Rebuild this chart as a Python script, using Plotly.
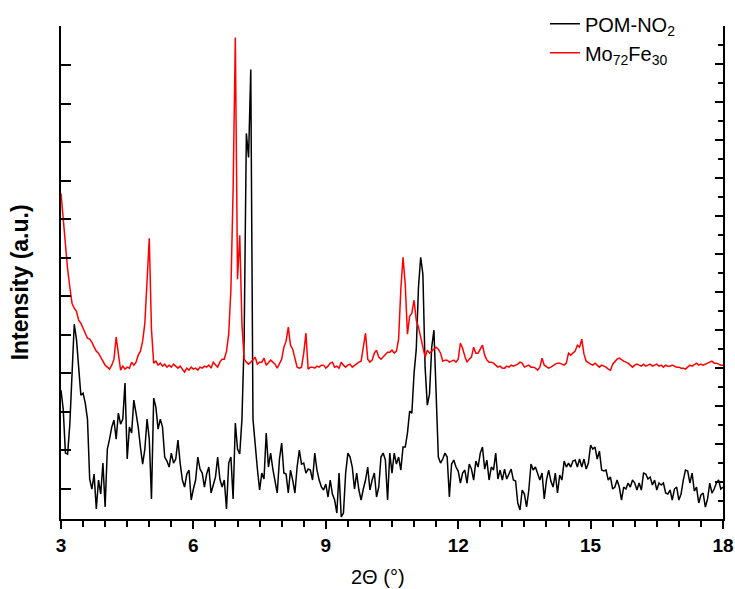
import plotly.graph_objects as go

# ---- data (2-theta grid start/step, intensities in arbitrary units) ----
X_START = 3.0
X_STEP = 0.05

pom_no2 = [
    129, 110, 66, 65, 95, 152, 195, 180, 150, 124, 126, 116, 100, 40, 30, 45, 10, 39, 25, 56,      # 3.00-3.95
    12, 70, 80, 92, 99, 80, 106, 95, 100, 136, 60, 92, 86, 119, 106, 92, 72, 55, 70, 100,          # 4.00-4.95
    80, 20, 121, 112, 90, 100, 92, 62, 58, 52, 66, 56, 60, 79, 56, 39, 32, 45, 49, 19,             # 5.00-5.95
    30, 39, 62, 50, 46, 32, 45, 52, 26, 35, 42, 62, 40, 32, 39, 10, 56, 62, 20, 96,                # 6.00-6.95
    70, 65, 100, 180, 386, 362, 450, 100, 72, 50, 29, 46, 40, 86, 52, 66, 50, 39, 26, 60,          # 7.00-7.95
    76, 46, 45, 26, 49, 39, 26, 52, 69, 55, 56, 46, 50, 49, 39, 66, 49, 39, 32, 29,                # 8.00-8.95
    35, 22, 39, 25, 19, 6, 46, 2, 6, 46, 66, 62, 52, 30, 46, 29, 19, 30, 39, 52,                   # 9.00-9.95
    29, 39, 46, 22, 32, 62, 66, 59, 19, 66, 46, 66, 55, 62, 49, 72, 72, 86, 108, 106,              # 10.00-10.95
    146, 170, 232, 262, 245, 152, 114, 125, 172, 189, 120, 62, 56, 60, 66, 62, 22, 55, 59, 52,     # 11.00-11.95
    48, 36, 46, 49, 36, 55, 50, 39, 58, 52, 66, 72, 50, 59, 39, 52, 49, 66, 40, 49,                # 12.00-12.95
    39, 50, 40, 45, 50, 39, 38, 16, 9, 29, 25, 12, 29, 55, 49, 52, 45, 39, 46, 20,                 # 13.00-13.95
    39, 49, 38, 32, 46, 26, 44, 39, 58, 52, 56, 52, 58, 59, 52, 60, 52, 60, 50, 56,                # 14.00-14.95
    74, 70, 72, 60, 68, 49, 48, 49, 39, 42, 30, 32, 39, 32, 19, 32, 30, 36, 32, 39,                # 15.00-15.95
    36, 29, 36, 29, 46, 45, 40, 42, 34, 39, 29, 36, 34, 36, 26, 25, 29, 19, 30, 32,                # 16.00-16.95
    19, 25, 39, 49, 48, 36, 46, 28, 32, 16, 24, 26, 12, 20, 36, 26, 30, 36, 39, 30,                # 17.00-17.95
    32,                                                                                            # 18.00
]

mo72fe30 = [
    326, 300, 282, 250, 232, 216, 211, 208, 199, 196, 191, 186, 181, 180, 177, 172, 168, 166, 162, 158,  # 3.00-3.95
    154, 152, 150, 154, 160, 182, 165, 149, 153, 150, 152, 151, 157, 154, 157, 164, 168, 178, 196, 235,  # 4.00-4.95
    281, 190, 156, 158, 154, 156, 153, 155, 152, 154, 152, 155, 153, 151, 153, 150, 147, 151, 149, 152,  # 5.00-5.95
    150, 151, 149, 152, 151, 153, 152, 154, 151, 157, 155, 152, 157, 160, 160, 168, 185, 230, 330, 482,  # 6.00-6.95
    240, 284, 195, 160, 157, 155, 157, 160, 162, 155, 157, 157, 161, 154, 157, 159, 157, 155, 151, 156,  # 7.00-7.95
    160, 172, 178, 192, 174, 170, 162, 152, 151, 152, 166, 186, 150, 152, 152, 151, 153, 152, 154, 154,  # 8.00-8.95
    151, 153, 156, 157, 152, 153, 151, 157, 154, 152, 154, 155, 152, 154, 155, 157, 158, 170, 186, 160,  # 9.00-9.95
    157, 159, 166, 169, 162, 160, 162, 165, 167, 167, 169, 166, 168, 180, 230, 262, 235, 185, 203, 206,  # 10.00-10.95
    219, 199, 192, 182, 172, 162, 169, 166, 168, 170, 172, 170, 166, 158, 159, 159, 157, 158, 159, 157,  # 11.00-11.95
    160, 176, 171, 163, 157, 160, 162, 172, 166, 166, 170, 174, 164, 159, 157, 157, 156, 154, 152, 153,  # 12.00-12.95
    151, 151, 153, 152, 154, 153, 154, 155, 157, 156, 152, 153, 154, 152, 152, 151, 149, 152, 161, 154,  # 13.00-13.95
    152, 151, 152, 154, 155, 156, 156, 155, 154, 156, 166, 164, 166, 168, 174, 172, 180, 165, 158, 156,  # 14.00-14.95
    155, 154, 156, 154, 152, 154, 153, 152, 150, 149, 155, 158, 160, 161, 159, 158, 157, 156, 154, 152,  # 15.00-15.95
    154, 155, 154, 153, 155, 153, 154, 155, 153, 154, 155, 153, 154, 152, 154, 153, 153, 154, 153, 152,  # 16.00-16.95
    152, 151, 151, 150, 152, 154, 153, 155, 156, 154, 155, 154, 155, 156, 157, 158, 156, 156, 155, 154,  # 17.00-17.95
    154,                                                                                                 # 18.00
]

x_ticks = [3, 6, 9, 12, 15, 18]
series_names = ["POM-NO<sub>2</sub>", "Mo<sub>72</sub>Fe<sub>30</sub>"]
series_colors = ["#000000", "#ff0000"]

two_theta = [round(X_START + X_STEP * i, 2) for i in range(len(pom_no2))]

FONT = "Arial, Liberation Sans, sans-serif"

fig = go.Figure()
for name, ys, col in [(series_names[0], pom_no2, series_colors[0]),
                      (series_names[1], mo72fe30, series_colors[1])]:
    fig.add_trace(go.Scatter(
        x=two_theta, y=ys, mode="lines", name=name,
        line=dict(color=col, width=1.5),
    ))

# invisible copy on the right-hand axis so that the mirrored frame axis is drawn
fig.add_trace(go.Scatter(
    x=two_theta, y=mo72fe30, yaxis="y2", mode="lines", opacity=0,
    line=dict(width=0), showlegend=False, hoverinfo="skip",
))

fig.update_layout(
    width=735, height=589,
    margin=dict(l=61, r=12, t=26, b=70, autoexpand=False),
    paper_bgcolor="white", plot_bgcolor="white",
    font=dict(family=FONT, color="black", size=17),
    showlegend=True,
    legend=dict(
        x=0.731, y=1.044, xanchor="left", yanchor="top",
        bgcolor="rgba(0,0,0,0)", borderwidth=0,
        font=dict(family=FONT, size=20, color="black"),
        traceorder="normal",
    ),
    xaxis=dict(
        range=[3, 18], tickvals=x_ticks, ticktext=[str(v) for v in x_ticks],
        showline=True, linecolor="black", linewidth=2,
        ticks="outside", ticklen=8, tickwidth=2, tickcolor="black",
        tickfont=dict(family=FONT, size=19, weight="bold"),
        minor=dict(dtick=0.5, tick0=3, ticks="outside", ticklen=6, tickwidth=2, tickcolor="black"),
        showgrid=False, zeroline=False,
    ),
    yaxis=dict(
        range=[0, 493.5], showticklabels=False,
        showline=True, linecolor="black", linewidth=2,
        ticks="inside", ticklen=10, tickwidth=2, tickcolor="black",
        tick0=30, dtick=38.58,
        showgrid=False, zeroline=False,
    ),
    yaxis2=dict(
        overlaying="y", side="right", anchor="x",
        range=[0, 493.5], showticklabels=False,
        showline=True, linecolor="black", linewidth=2,
        ticks="inside", ticklen=8, tickwidth=2, tickcolor="black",
        tick0=37, dtick=38,
        minor=dict(tick0=37, dtick=19, ticks="inside", ticklen=5, tickwidth=2, tickcolor="black"),
        showgrid=False, zeroline=False,
    ),
    annotations=[
        dict(text="Intensity (a.u.)", xref="paper", yref="paper", x=-0.062, y=0.48,
             xanchor="center", yanchor="middle", textangle=-90, showarrow=False,
             font=dict(family=FONT, size=23, weight="bold", color="black")),
        dict(text="2Θ (°)", xref="paper", yref="paper", x=0.479, y=-0.117,
             xanchor="center", yanchor="middle", showarrow=False,
             font=dict(family=FONT, size=20, color="black")),
    ],
)

fig.write_html("out.html")
